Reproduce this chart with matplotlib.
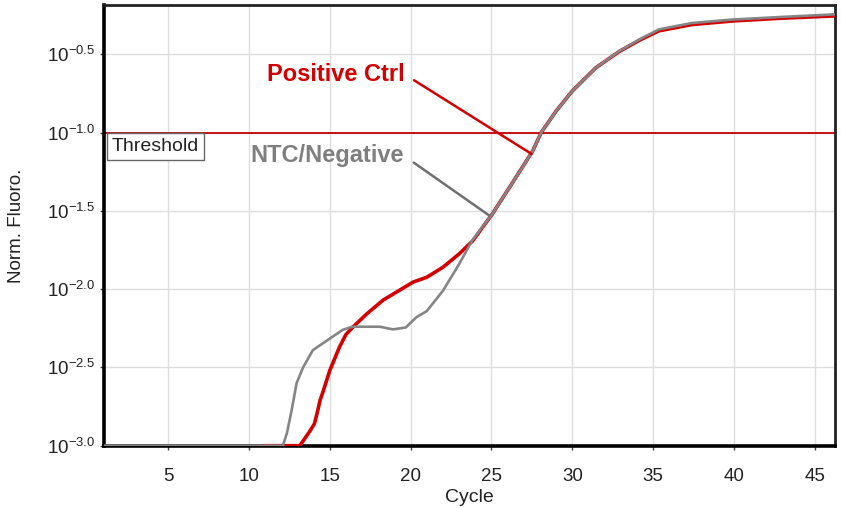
import numpy as np
import matplotlib
matplotlib.use("Agg")
import matplotlib.pyplot as plt
from matplotlib.ticker import NullLocator

plt.rcParams['font.family'] = ['Liberation Sans', 'DejaVu Sans']
plt.rcParams['mathtext.fontset'] = 'custom'
plt.rcParams['mathtext.rm'] = 'Liberation Sans'
plt.rcParams['mathtext.it'] = 'Liberation Sans:italic'
plt.rcParams['mathtext.bf'] = 'Liberation Sans:bold'

# NTC / Negative curve (cycle, log10 norm. fluoro.)
ntc_cycle = [1, 12.1, 12.35, 12.65, 12.95, 13.35, 13.95, 14.8, 15.8, 16.4, 18.1, 18.9,
             19.7, 20.35, 21.0, 22.0, 23.0, 23.8, 25.05, 26.3, 27.55, 28.07, 29.0, 30.0,
             31.45, 32.9, 34.15, 35.35, 37.4, 39.9, 42.8, 46.2]
ntc_log = [-3.0, -3.0, -2.92, -2.77, -2.60, -2.50, -2.39, -2.33, -2.26, -2.24, -2.24, -2.257,
           -2.245, -2.18, -2.14, -2.01, -1.84, -1.69, -1.52, -1.32, -1.117, -1.0, -0.862, -0.734,
           -0.586, -0.48, -0.405, -0.341, -0.30, -0.278, -0.262, -0.245]

# Positive control curve
pos_cycle = [11.0, 13.15, 13.75, 14.05, 14.2, 14.4, 14.6, 15.0, 15.6, 16.0, 16.45, 17.3, 18.3,
             19.3, 20.15, 21.0, 22.0, 23.0, 23.85, 25.05, 26.3, 27.55, 28.07, 29.0, 30.0,
             31.45, 32.9, 34.15, 35.35, 37.4, 39.9, 42.8, 46.2]
pos_log = [-3.0, -3.0, -2.91, -2.86, -2.80, -2.71, -2.65, -2.52, -2.37, -2.29, -2.24, -2.157, -2.07,
           -2.008, -1.955, -1.924, -1.86, -1.775, -1.69, -1.52, -1.32, -1.117, -1.0, -0.862, -0.734,
           -0.586, -0.482, -0.41, -0.35, -0.31, -0.287, -0.27, -0.255]

threshold_log = -1.0
x_ticks = [5, 10, 15, 20, 25, 30, 35, 40, 45]
y_tick_exps = [-3.0, -2.5, -2.0, -1.5, -1.0, -0.5]
y_tick_labels = [r'$\mathregular{10^{%.1f}}$' % e for e in y_tick_exps]

fig = plt.figure(figsize=(8.41, 5.08), dpi=100)
ax = fig.add_axes([104/841, 1-445.7/508, (835-104)/841, (445.7-5)/508])

ax.set_yscale('log')
ax.set_xlim(1.04, 46.24)
ax.set_ylim(10**-3.0, 10**-0.185)

ax.set_xticks(x_ticks)
ax.set_xticklabels([str(t) for t in x_ticks], fontsize=13.5, color='#222222')
ax.set_yticks([10**e for e in y_tick_exps])
ax.set_yticklabels(y_tick_labels, fontsize=13.5, color='#222222')
ax.yaxis.set_minor_locator(NullLocator())
ax.xaxis.set_minor_locator(NullLocator())
ax.tick_params(axis='both', direction='out', length=3, width=1, color='#444444')
ax.tick_params(axis='x', pad=13)
ax.tick_params(axis='y', pad=3)

ax.grid(True, color='#dedede', lw=1)
ax.set_axisbelow(True)

for side in ['left', 'bottom']:
    ax.spines[side].set_linewidth(2.6)
    ax.spines[side].set_color('black')
for side in ['top', 'right']:
    ax.spines[side].set_linewidth(2.0)
    ax.spines[side].set_color('#222222')

ax.axhline(10**threshold_log, color='#c00000', lw=1.3, zorder=2)

ax.plot(pos_cycle, 10**np.array(pos_log), color='#d40000', lw=2.6, zorder=3, clip_on=True)
ax.plot(ntc_cycle, 10**np.array(ntc_log), color='#858585', lw=1.9, zorder=4, clip_on=True)

ax.text(1.5, 10**(threshold_log - 0.035), 'Threshold', fontsize=14, color='#222222',
        ha='left', va='top', zorder=5,
        bbox=dict(boxstyle='square,pad=0.25', fc='white', ec='#666666', lw=1))

ax.annotate('Positive Ctrl', xy=(27.47, 10**-1.136), xytext=(19.6, 10**-0.626),
            fontsize=17, fontweight='bold', color='#d40000', ha='right', va='center',
            arrowprops=dict(arrowstyle='-', color='#d40000', lw=1.8, relpos=(1.0, 0.5),
                            shrinkA=6, shrinkB=0), zorder=6)
ax.annotate('NTC/Negative', xy=(24.88, 10**-1.531), xytext=(19.6, 10**-1.149),
            fontsize=17, fontweight='bold', color='#7f7f7f', ha='right', va='center',
            arrowprops=dict(arrowstyle='-', color='#6f6f6f', lw=1.8, relpos=(1.0, 0.5),
                            shrinkA=6, shrinkB=0), zorder=6)

ax.set_xlabel('Cycle', fontsize=14, color='#222222', labelpad=3)
ax.set_ylabel('Norm. Fluoro.', fontsize=13.5, color='#222222')
ax.yaxis.set_label_coords((25 - 104) / 731, 0.5)

fig.savefig('out.png', dpi=100)
